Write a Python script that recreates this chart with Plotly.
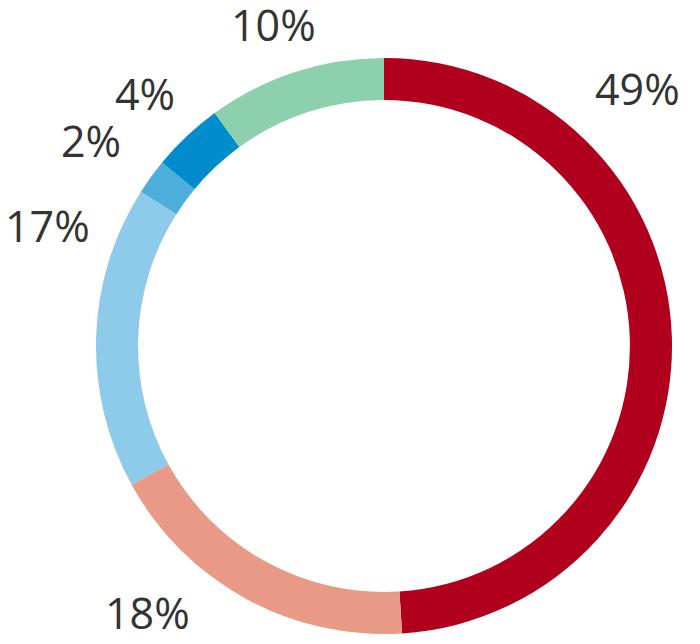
import plotly.graph_objects as go

# Share of each segment, clockwise from 12 o'clock
shares = [49, 18, 17, 2, 4, 10]
labels = ["49%", "18%", "17%", "2%", "4%", "10%"]
colors = ["#b0001e", "#e99a86", "#8ecbea", "#4daedb", "#008ccd", "#8dd0ad"]

W, H = 700, 644
PAD = 8  # the page body adds an 8px margin around the plot div

# where the percentage text sits, in page pixels from top-left (layout only)
label_xy = [(637, 90), (147, 614), (47, 228), (91, 142), (145, 95), (273, 26)]

# ring geometry in page pixels
cx, cy, r = 384 - PAD, 346 - PAD, 288

fig = go.Figure(go.Pie(
    values=shares,
    labels=labels,
    marker=dict(colors=colors, line=dict(width=0)),
    hole=0.854,
    sort=False,
    direction="clockwise",
    rotation=0,
    textinfo="none",
    hoverinfo="label",
    domain=dict(x=[(cx - r) / W, (cx + r) / W],
                y=[(H - cy - r) / H, (H - cy + r) / H]),
))

for txt, (px_, py_) in zip(labels, label_xy):
    fig.add_annotation(
        x=(px_ - PAD) / W, y=1 - (py_ - PAD - 2) / H, xref="paper", yref="paper",
        text=txt, showarrow=False, xanchor="center", yanchor="middle",
        font=dict(family="Open Sans", size=43, color="#333333"),
    )

fig.update_layout(
    width=W, height=H,
    margin=dict(l=0, r=0, t=0, b=0),
    showlegend=False,
    paper_bgcolor="white",
    plot_bgcolor="white",
)

fig.write_html("out.html")
